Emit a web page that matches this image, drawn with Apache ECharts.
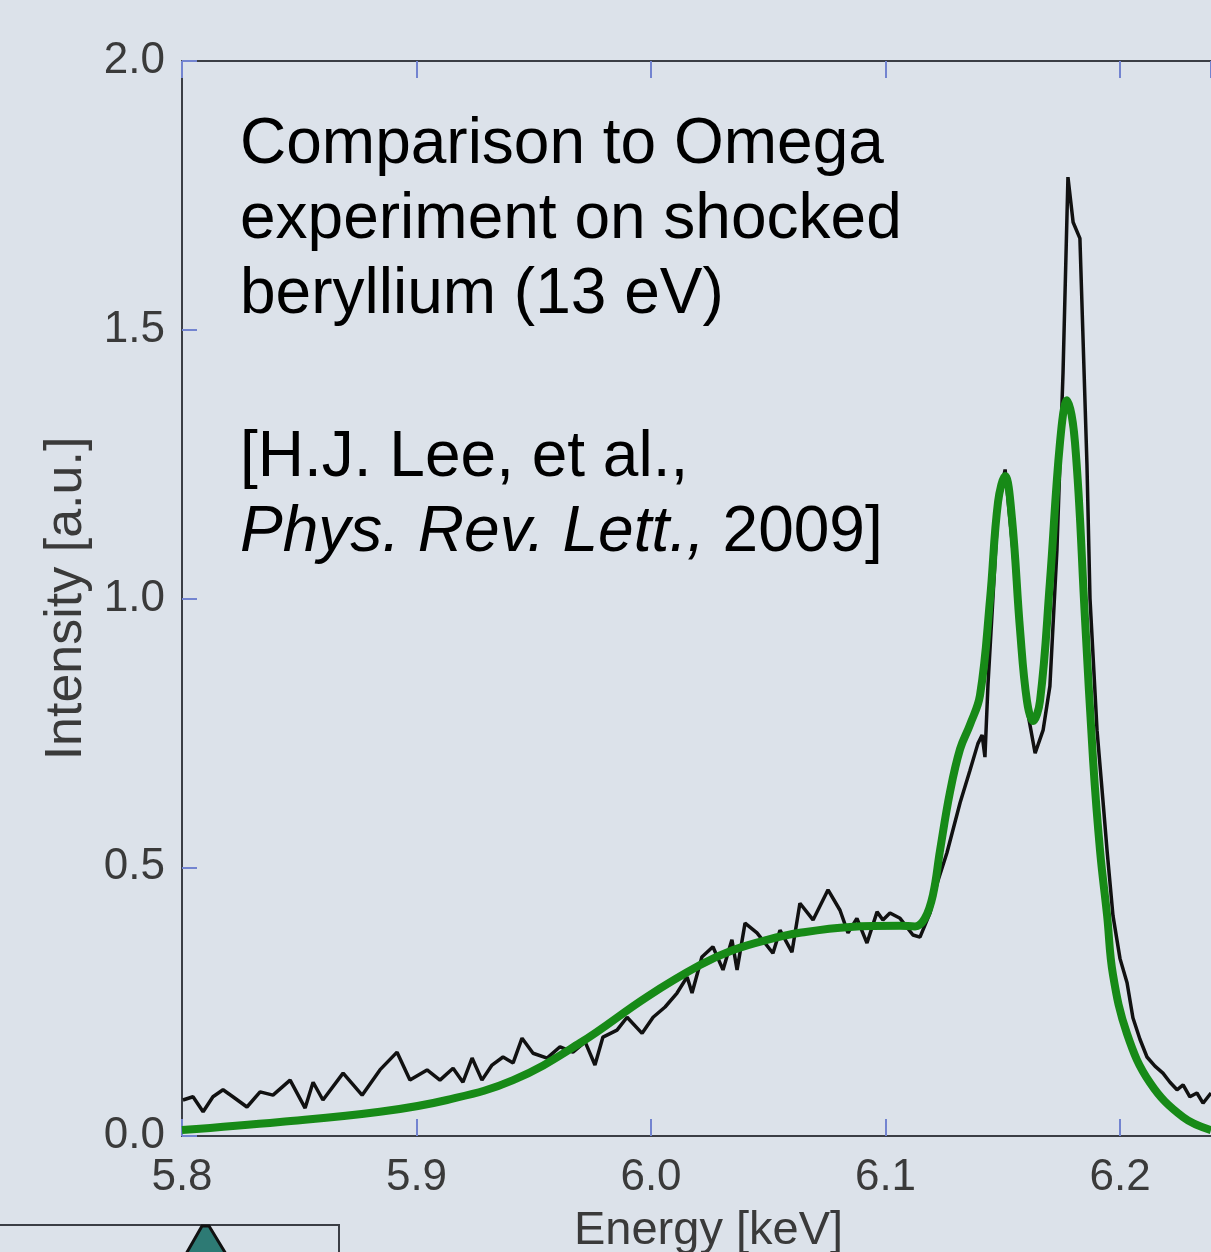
<!DOCTYPE html>
<html>
<head>
<meta charset="utf-8">
<script src="https://cdn.jsdelivr.net/npm/echarts@6/dist/echarts.min.js"></script>
<style>
  html, body { margin: 0; padding: 0; background: #dce2ea; }
  #chart { width: 1211px; height: 1252px; }
</style>
</head>
<body>
<div id="chart"></div>
<script>
// measured spectrum (black, noisy)
const measEnergy = [
  5.8004, 5.8047, 5.8090, 5.8132, 5.8175, 5.8217, 5.8277, 5.8333, 5.8388, 5.8461,
  5.8525, 5.8559, 5.8601, 5.8687, 5.8768, 5.8844, 5.8917, 5.8972, 5.9045, 5.9100,
  5.9156, 5.9198, 5.9237, 5.9279, 5.9322, 5.9369, 5.9412, 5.9450, 5.9497, 5.9557,
  5.9612, 5.9667, 5.9719, 5.9761, 5.9795, 5.9855, 5.9898, 5.9962, 6.0009, 6.0060,
  6.0111, 6.0154, 6.0175, 6.0217, 6.0264, 6.0307, 6.0345, 6.0367, 6.0401, 6.0452,
  6.0520, 6.0550, 6.0601, 6.0635, 6.0691, 6.0755, 6.0806, 6.0840, 6.0878, 6.0921,
  6.0964, 6.0989, 6.1019, 6.1062, 6.1117, 6.1147, 6.1190, 6.1220, 6.1262, 6.1318,
  6.1360, 6.1394, 6.1412, 6.1424, 6.1437, 6.1458, 6.1480, 6.1510, 6.1544, 6.1574,
  6.1603, 6.1638, 6.1672, 6.1701, 6.1731, 6.1757, 6.1778, 6.1800, 6.1829, 6.1859,
  6.1872, 6.1902, 6.1928, 6.1945, 6.1970, 6.2000, 6.2030, 6.2055, 6.2085, 6.2115,
  6.2149, 6.2183, 6.2213, 6.2243, 6.2269, 6.2298, 6.2328, 6.2354, 6.2388
];
const measIntensity = [
  0.067, 0.073, 0.045, 0.073, 0.086, 0.073, 0.054, 0.082, 0.076, 0.104,
  0.052, 0.100, 0.067, 0.117, 0.076, 0.123, 0.156, 0.104, 0.123, 0.104,
  0.126, 0.100, 0.145, 0.104, 0.132, 0.147, 0.136, 0.182, 0.154, 0.145,
  0.166, 0.156, 0.175, 0.132, 0.184, 0.197, 0.221, 0.191, 0.221, 0.240,
  0.266, 0.296, 0.266, 0.333, 0.352, 0.309, 0.365, 0.309, 0.396, 0.378,
  0.340, 0.383, 0.342, 0.433, 0.402, 0.458, 0.420, 0.378, 0.405, 0.359,
  0.417, 0.402, 0.415, 0.405, 0.374, 0.370, 0.415, 0.470, 0.527, 0.620,
  0.680, 0.730, 0.746, 0.705, 0.840, 1.000, 1.170, 1.240, 1.087, 0.920,
  0.796, 0.712, 0.755, 0.837, 1.090, 1.420, 1.784, 1.700, 1.670, 1.250,
  1.000, 0.755, 0.620, 0.530, 0.410, 0.330, 0.285, 0.220, 0.180, 0.147,
  0.130, 0.117, 0.100, 0.086, 0.095, 0.073, 0.080, 0.061, 0.080
];

// calculated spectrum (green, smooth)
const fitEnergy = [
  5.8000, 5.8418, 5.8844, 5.9130, 5.9412, 5.9697, 5.9983, 6.0209, 6.0350, 6.0495,
  6.0635, 6.0849, 6.1062, 6.1126, 6.1168, 6.1203, 6.1232, 6.1275, 6.1318, 6.1360,
  6.1403, 6.1446, 6.1480, 6.1510, 6.1539, 6.1574, 6.1603, 6.1629, 6.1659, 6.1701,
  6.1744, 6.1774, 6.1808, 6.1851, 6.1885, 6.1915, 6.1945, 6.1970, 6.2030, 6.2128,
  6.2269, 6.2388
];
const fitIntensity = [
  0.011, 0.026, 0.045, 0.067, 0.104, 0.173, 0.259, 0.318, 0.346, 0.365,
  0.378, 0.389, 0.391, 0.390, 0.405, 0.450, 0.530, 0.640, 0.720, 0.765,
  0.820, 1.000, 1.180, 1.228, 1.150, 0.940, 0.810, 0.772, 0.810, 1.030,
  1.290, 1.369, 1.290, 0.960, 0.700, 0.530, 0.410, 0.300, 0.190, 0.099,
  0.035, 0.011
];

const xMin = 5.8, xMax = 6.2388;

const chart = echarts.init(document.getElementById('chart'));

const tickFont = '"Liberation Sans", Arial, sans-serif';
const fmt1 = (v) => Math.abs(v * 10 - Math.round(v * 10)) < 1e-6 ? v.toFixed(1) : '';

const option = {
  backgroundColor: '#dce2ea',
  animation: false,
  grid: { left: 182, top: 61, right: 0, bottom: 116, outerBoundsMode: 'none', containLabel: false },
  xAxis: [
    {
      type: 'value', min: xMin, max: xMax, interval: 0.1,
      name: 'Energy [keV]', nameLocation: 'middle', nameGap: 72,
      nameTextStyle: { fontFamily: tickFont, fontSize: 47, color: '#3a3a3a', padding: [0, 0, 0, 24] },
      axisLine: { lineStyle: { color: '#3b3e45', width: 2 } },
      axisTick: { inside: true, length: 17, lineStyle: { color: '#7384d0', width: 2 } },
      axisLabel: { formatter: fmt1, fontFamily: tickFont, fontSize: 44, color: '#3a3a3a', margin: 20, showMaxLabel: false },
      splitLine: { show: false }
    },
    {
      type: 'value', position: 'top', min: xMin, max: xMax, interval: 0.1,
      axisLine: { lineStyle: { color: '#3b3e45', width: 2 } },
      axisTick: { inside: true, length: 17, lineStyle: { color: '#7384d0', width: 2 } },
      axisLabel: { show: false },
      splitLine: { show: false }
    }
  ],
  yAxis: {
    type: 'value', min: 0, max: 2, interval: 0.5,
    name: 'Intensity [a.u.]', nameLocation: 'middle', nameGap: 74, nameRotate: 90,
    nameTextStyle: { fontFamily: tickFont, fontSize: 52, color: '#3a3a3a' },
    axisLine: { show: true, lineStyle: { color: '#3b3e45', width: 2 } },
    axisTick: { show: true, inside: true, length: 15, lineStyle: { color: '#7384d0', width: 2 } },
    axisLabel: { formatter: (v) => v.toFixed(1), fontFamily: tickFont, fontSize: 44, color: '#3a3a3a', margin: 17 },
    splitLine: { show: false }
  },
  series: [
    {
      name: 'Experiment', type: 'line', showSymbol: false,
      data: measEnergy.map((e, i) => [e, measIntensity[i]]),
      lineStyle: { color: '#111111', width: 3.5 }
    },
    {
      name: 'Calculation', type: 'line', showSymbol: false, smooth: 0.4,
      data: fitEnergy.map((e, i) => [e, fitIntensity[i]]),
      lineStyle: { color: '#178a17', width: 8 }
    }
  ],
  graphic: [
    {
      type: 'text', left: 240, top: 108,
      style: {
        text: 'Comparison to Omega\nexperiment on shocked\nberyllium (13 eV)',
        font: '64px "Liberation Sans", Arial, sans-serif', lineHeight: 75, fill: '#000'
      }
    },
    {
      type: 'text', left: 240, top: 421,
      style: {
        text: '[H.J. Lee, et al.,\n{i|Phys. Rev. Lett.,} 2009]',
        font: '64px "Liberation Sans", Arial, sans-serif', lineHeight: 75, fill: '#000',
        rich: { i: { fontStyle: 'italic', fontSize: 64, fontFamily: '"Liberation Sans", Arial, sans-serif', lineHeight: 75, fill: '#000' } }
      }
    },
    // edge of the neighbouring inset panel at the bottom left
    {
      type: 'polyline', shape: { points: [[-2, 1225], [339, 1225], [339, 1260]] },
      style: { stroke: '#3b3e45', lineWidth: 2, fill: null }
    },
    {
      type: 'polygon', shape: { points: [[186, 1254], [202, 1226], [209, 1226], [226, 1254]] },
      style: { fill: '#2d7a74', stroke: '#111', lineWidth: 3 }
    }
  ]
};

chart.setOption(option);
</script>
</body>
</html>
